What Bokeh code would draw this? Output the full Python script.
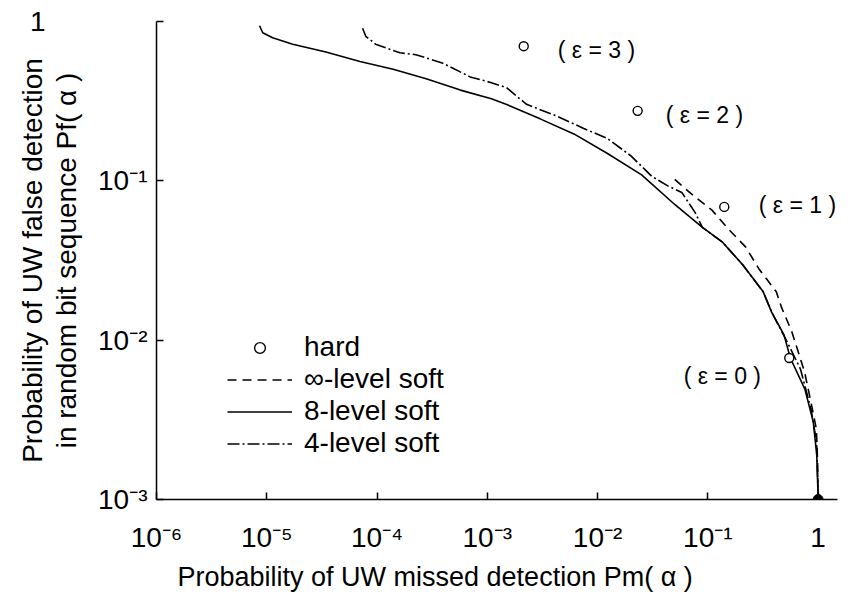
from bokeh.plotting import figure
from bokeh.models import (Legend, LegendItem, Label, CustomJSTickFormatter,
                          FixedTicker, Title, LogAxis)
from bokeh.embed import file_html
from bokeh.resources import INLINE

# ---------------- data ----------------
x_ticks = [1e-6, 1e-5, 1e-4, 1e-3, 1e-2, 1e-1, 1.0]
y_ticks = [1e-3, 1e-2, 1e-1, 1.0]
y_top_tick = [1.0]

# hard decision points
hard_pm = [2.14e-3, 0.0231, 0.141, 0.548]
hard_pf = [0.70, 0.275, 0.0686, 0.00773]
hard_text = ["( ε = 3 )", "( ε = 2 )", "( ε = 1 )", "( ε = 0 )"]
hard_text_pm = [4.35e-3, 0.0415, 0.290, 0.0604]
hard_text_pf = [0.658, 0.258, 0.0702, 0.00597]

end_pm = [1.0]
end_pf = [1e-3]

# infinite-level soft (dashed)
inf_pm = [0.0501, 0.0718, 0.109, 0.154, 0.220, 0.291, 0.418, 0.467, 0.578,
          0.754, 0.862, 0.965, 0.99, 1.0]
inf_pf = [0.102, 0.0822, 0.0655, 0.0497, 0.0385, 0.028, 0.0201, 0.0160,
          0.0113, 0.00632, 0.00408, 0.00277, 0.00171, 0.001]

# 8-level soft (solid)
s8_pm = [8.6e-6, 9.2e-6, 1.13e-5, 1.72e-5, 3.44e-5, 7.0e-5, 1.40e-4, 2.79e-4,
         5.7e-4, 1.09e-3, 1.50e-3, 3.05e-3, 6.1e-3, 0.0122, 0.0251, 0.0504,
         0.0893, 0.136, 0.208, 0.318, 0.379, 0.491, 0.560, 0.759, 0.905,
         0.973, 0.995, 1.0]
s8_pf = [0.94, 0.85, 0.79, 0.72, 0.644, 0.561, 0.502, 0.437, 0.371, 0.327,
         0.301, 0.244, 0.197, 0.149, 0.109, 0.0708, 0.0510, 0.0412, 0.0296,
         0.0201, 0.0150, 0.0108, 0.00773, 0.00493, 0.00306, 0.00189, 0.00116,
         0.001]

# 4-level soft (dash-dot)
s4_pm = [7.4e-5, 7.9e-5, 9.7e-5, 1.61e-4, 2.25e-4, 3.96e-4, 7.0e-4, 1.09e-3,
         1.49e-3, 2.27e-3, 4.27e-3, 7.5e-3, 0.0122, 0.0202, 0.0309, 0.0433,
         0.0581, 0.0768, 0.0893, 0.136, 0.208, 0.318, 0.379, 0.524, 0.692,
         0.863, 0.969, 0.995, 1.0]
s4_pf = [0.908, 0.807, 0.721, 0.636, 0.619, 0.547, 0.449, 0.413, 0.385,
         0.302, 0.255, 0.213, 0.185, 0.143, 0.107, 0.093, 0.0845, 0.0632,
         0.0510, 0.0412, 0.0296, 0.0201, 0.0150, 0.00975, 0.00659, 0.00369,
         0.00229, 0.00128, 0.001]

legend_labels = ["hard", "∞-level soft", "8-level soft", "4-level soft"]

x_title = "Probability of UW missed detection Pm( α )"
y_title_1 = "Probability of UW false detection"
y_title_2 = "in random bit sequence Pf( α )"

FONT = "Liberation Sans"

# ---------------- figure ----------------
p = figure(frame_width=681, frame_height=478,
           x_axis_type="log", y_axis_type="log",
           x_range=(1e-6, 1.5), y_range=(1e-3, 1.0),
           output_backend="svg", toolbar_location=None,
           min_border_left=156, min_border_right=8,
           min_border_top=21, min_border_bottom=90)
p.outline_line_color = None
p.grid.visible = False
p.background_fill_color = "white"
p.border_fill_color = "white"

sup_js = """
const sup = {"-":"\u207b","0":"\u2070","1":"\u00b9","2":"\u00b2","3":"\u00b3",
             "4":"\u2074","5":"\u2075","6":"\u2076","7":"\u2077","8":"\u2078","9":"\u2079"};
const e = Math.round(Math.log10(tick));
"""
p.xaxis.ticker = FixedTicker(ticks=x_ticks)
p.yaxis.ticker = FixedTicker(ticks=y_ticks)
p.xaxis.formatter = CustomJSTickFormatter(code=sup_js + """
if (e >= 0) return "1";
return "10" + String(e).split("").map(c => sup[c]).join("");
""")
p.yaxis.formatter = CustomJSTickFormatter(code=sup_js + """
if (e >= 0) return "";
return "10" + String(e).split("").map(c => sup[c]).join("");
""")

for ax in (p.xaxis, p.yaxis):
    ax.major_tick_in = 7
    ax.major_tick_out = 0
    ax.minor_tick_in = 0
    ax.minor_tick_out = 0
    ax.axis_line_width = 1.5
    ax.axis_line_color = "black"
    ax.major_tick_line_color = "black"
    ax.major_tick_line_width = 1.5
    ax.major_label_text_font = FONT
    ax.major_label_text_font_size = "28px"
    ax.major_label_text_color = "black"
    ax.axis_label_text_font = FONT
    ax.axis_label_text_font_style = "normal"
    ax.axis_label_text_color = "black"
    ax.axis_label_text_font_size = "28px"

p.xaxis.major_label_standoff = 22
p.yaxis.major_label_standoff = 9
p.yaxis.axis_label = y_title_2
p.yaxis.axis_label_standoff = 13

# outer left axis: carries the top "1" label and the first title line
top_axis = LogAxis(ticker=FixedTicker(ticks=y_top_tick),
                   formatter=CustomJSTickFormatter(code='return "1";'),
                   axis_line_color=None, major_tick_line_color=None,
                   minor_tick_line_color=None, major_tick_in=0,
                   major_tick_out=0, major_label_standoff=3,
                   major_label_text_font=FONT,
                   major_label_text_font_size="28px",
                   major_label_text_color="black",
                   axis_label=y_title_1, axis_label_standoff=-21,
                   axis_label_text_font=FONT,
                   axis_label_text_font_style="normal",
                   axis_label_text_font_size="28px",
                   axis_label_text_color="black")
p.add_layout(top_axis, "left")

p.add_layout(Title(text=x_title, align="left", offset=21, standoff=9,
                   text_font=FONT, text_font_size="27px",
                   text_font_style="normal", text_color="black"), "below")

# ---------------- curves ----------------
r_inf = p.line(inf_pm, inf_pf, line_color="black", line_width=1.6,
               line_dash="9 6")
r_s8 = p.line(s8_pm, s8_pf, line_color="black", line_width=1.6)
r_s4 = p.line(s4_pm, s4_pf, line_color="black", line_width=1.6,
              line_dash="12 3 2 3")
r_hard = p.scatter(hard_pm, hard_pf, marker="circle", size=9,
                   fill_color="white", line_color="black", line_width=1.4)
p.scatter(end_pm, end_pf, marker="circle", size=10, fill_color="black",
          line_color="black")

for tx, ty, tt in zip(hard_text_pm, hard_text_pf, hard_text):
    p.add_layout(Label(x=tx, y=ty, text=tt, text_align="left",
                       text_baseline="middle", text_font=FONT,
                       text_font_size="23px", text_color="black"))

legend = Legend(items=[LegendItem(label=legend_labels[0], renderers=[r_hard]),
                       LegendItem(label=legend_labels[1], renderers=[r_inf]),
                       LegendItem(label=legend_labels[2], renderers=[r_s8]),
                       LegendItem(label=legend_labels[3], renderers=[r_s4])],
                location=(71, 40), border_line_color=None,
                background_fill_alpha=0, glyph_width=65, glyph_height=27,
                label_height=27, label_standoff=12, spacing=0, padding=0,
                margin=0, label_text_font=FONT, label_text_font_size="28px",
                label_text_color="black", label_text_line_height=0.95)
p.add_layout(legend)

open("out.html", "w").write(file_html(p, INLINE))
